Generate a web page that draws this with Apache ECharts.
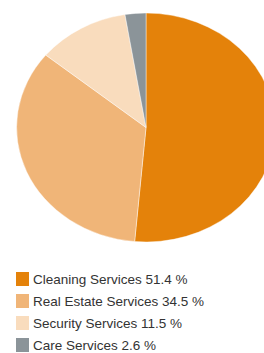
<!DOCTYPE html>
<html>
<head>
<meta charset="utf-8">
<script src="https://cdn.jsdelivr.net/npm/echarts@6/dist/echarts.min.js"></script>
<style>
html,body{margin:0;padding:0;width:264px;height:353px;overflow:hidden;background:#fff;}
#pie{position:absolute;left:0;top:0;width:264px;height:260px;transform:scaleX(1.13);transform-origin:146px 0;}
#legend{position:absolute;left:0;top:0;width:264px;height:400px;}
</style>
</head>
<body>
<div id="pie"></div>
<div id="legend"></div>
<script>
var categories = ['Cleaning Services', 'Real Estate Services', 'Security Services', 'Care Services'];
var values = [51.4, 34.5, 11.5, 2.6];
var colors = ['#E4820A', '#F0B578', '#F9DCBD', '#8B9499'];

var data = categories.map(function (c, i) {
  return { name: c, value: values[i], itemStyle: { color: colors[i] } };
});

var pie = echarts.init(document.getElementById('pie'), null, { renderer: 'svg' });
pie.setOption({
  animation: false,
  series: [{
    type: 'pie',
    center: [146, 127.5],
    radius: [0, 114.5],
    startAngle: 90,
    clockwise: true,
    label: { show: false },
    labelLine: { show: false },
    itemStyle: { borderColor: '#ffffff', borderWidth: 0.4 },
    emphasis: { disabled: true },
    data: data
  }]
});

var legend = echarts.init(document.getElementById('legend'), null, { renderer: 'svg' });
legend.setOption({
  animation: false,
  legend: {
    orient: 'vertical',
    left: 16,
    top: 272,
    padding: 0,
    itemWidth: 13,
    itemHeight: 14,
    itemGap: 8,
    icon: 'rect',
    selectedMode: false,
    textStyle: { fontFamily: 'Liberation Sans', fontSize: 13.5, color: '#333333', padding: [0, 0, 0, -1] },
    formatter: function (name) {
      var i = categories.indexOf(name);
      return name + ' ' + values[i] + ' %';
    },
    data: categories
  },
  series: [{
    type: 'pie',
    radius: 0,
    center: [-100, -100],
    label: { show: false },
    labelLine: { show: false },
    data: data
  }]
});
</script>
</body>
</html>
